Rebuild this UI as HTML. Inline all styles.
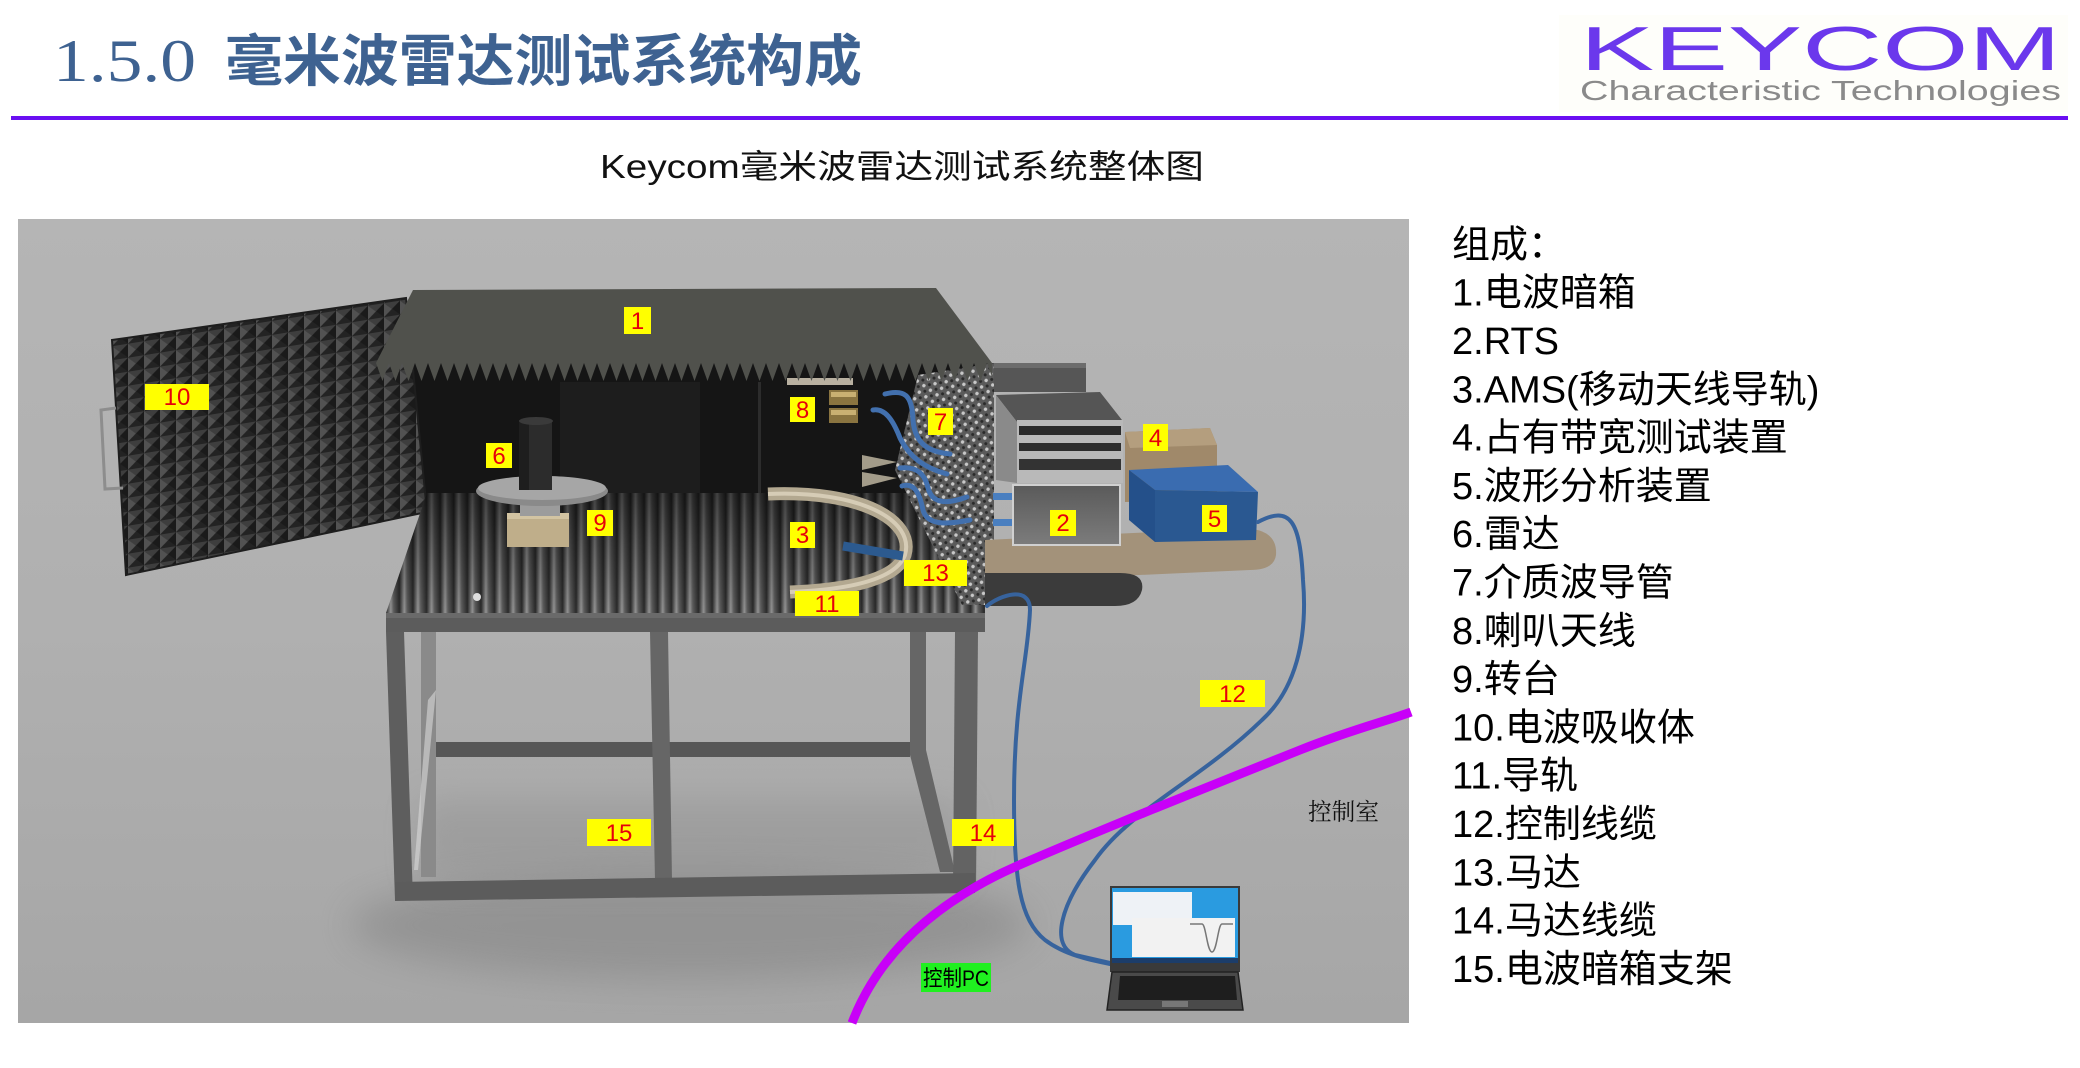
<!DOCTYPE html>
<html><head><meta charset="utf-8">
<style>
html,body{margin:0;padding:0;background:#fff;}
body{width:2080px;height:1068px;overflow:hidden;position:relative;}
svg{position:absolute;left:0;top:0;}
</style></head><body>
<svg width="2080" height="1068" viewBox="0 0 2080 1068" xmlns="http://www.w3.org/2000/svg">
<defs>
 <linearGradient id="bg" x1="0" y1="0" x2="0" y2="1">
  <stop offset="0" stop-color="#b5b5b5"/>
  <stop offset="0.5" stop-color="#b0b0b0"/>
  <stop offset="1" stop-color="#a6a6a6"/>
 </linearGradient>
 <filter id="blur18" x="-50%" y="-50%" width="200%" height="200%"><feGaussianBlur stdDeviation="18"/></filter>
 <pattern id="pyr" width="16" height="14" patternUnits="userSpaceOnUse" patternTransform="skewY(-9)">
  <rect width="16" height="14" fill="#2a2a2a"/>
  <polygon points="0,0 8,7 0,14" fill="#525252"/>
  <polygon points="0,0 16,0 8,7" fill="#3e3e3e"/>
  <polygon points="16,0 16,14 8,7" fill="#1a1a1a"/>
  <polygon points="0,14 16,14 8,7" fill="#232323"/>
 </pattern>
 <linearGradient id="ribg" x1="0" x2="1" y1="0" y2="0">
  <stop offset="0" stop-color="#2e2e2e"/>
  <stop offset="0.35" stop-color="#949494"/>
  <stop offset="0.55" stop-color="#5e5e5e"/>
  <stop offset="1" stop-color="#282828"/>
 </linearGradient>
 <pattern id="rib" width="13.6" height="20" patternUnits="userSpaceOnUse" x="386">
  <rect width="13.6" height="20" fill="url(#ribg)"/>
 </pattern>
 <linearGradient id="floorshade" x1="0" y1="0" x2="0" y2="1">
  <stop offset="0" stop-color="#000" stop-opacity="0.55"/>
  <stop offset="1" stop-color="#000" stop-opacity="0"/>
 </linearGradient>
 <pattern id="teeth" width="13" height="19" patternUnits="userSpaceOnUse" x="376" y="363">
  <polygon points="0,0 13,0 6.5,18" fill="#50514c"/>
 </pattern>
 <pattern id="speck" width="8" height="8" patternUnits="userSpaceOnUse" patternTransform="rotate(35)">
  <rect width="8" height="8" fill="#5a5a5a"/>
  <circle cx="2" cy="2" r="1.7" fill="#c8c8c8"/>
  <circle cx="6" cy="6" r="1.5" fill="#2a2a2a"/>
 </pattern>
 <linearGradient id="boxg" x1="0" y1="0" x2="0" y2="1">
  <stop offset="0" stop-color="#5a5a5a"/>
  <stop offset="1" stop-color="#7c7c7c"/>
 </linearGradient>
</defs>

<!-- HEADER -->
<text x="53" y="81" font-family="'Liberation Serif',serif" font-size="60" fill="#3e6291" textLength="143" lengthAdjust="spacingAndGlyphs">1.5.0</text>
<text x="225" y="81" font-family="'Noto Sans CJK SC','WenQuanYi Zen Hei',sans-serif" font-weight="bold" font-size="56" fill="#3e6291" textLength="637" lengthAdjust="spacingAndGlyphs">毫米波雷达测试系统构成</text>

<rect x="1559" y="15" width="509" height="97" fill="#fefefa"/>
<text x="1580" y="70" font-family="'Liberation Sans',sans-serif" font-size="62" fill="#6b38ec" textLength="481" lengthAdjust="spacingAndGlyphs">KEYCOM</text>
<text x="1580" y="100" font-family="'Liberation Sans',sans-serif" font-size="28" fill="#8a8a8a" textLength="481" lengthAdjust="spacingAndGlyphs">Characteristic Technologies</text>

<rect x="11" y="116" width="2057" height="4" fill="#6a0ff2"/>

<text x="600" y="178" font-family="'Liberation Sans','Noto Sans CJK SC',sans-serif" font-size="33" fill="#111" textLength="604" lengthAdjust="spacingAndGlyphs">Keycom毫米波雷达测试系统整体图</text>

<!-- PHOTO -->
<rect x="18" y="219" width="1391" height="804" fill="url(#bg)"/>
<ellipse cx="690" cy="925" rx="340" ry="55" fill="#7a7a7a" opacity="0.45" filter="url(#blur18)"/>
<rect x="420" y="800" width="540" height="80" fill="#777" opacity="0.25" filter="url(#blur18)"/>

<!-- table frame -->
<rect x="436" y="742" width="474" height="15" fill="#575757"/>
<polygon points="421,632 436,632 436,877 421,877" fill="#8a8a8a"/>
<polygon points="428,700 436,690 418,870 414,870" fill="#d8d8d8" opacity="0.6"/>
<polygon points="910,632 926,632 926,750 955,872 940,872 910,755" fill="#666"/>
<polygon points="386,632 404,632 413,900 395,900" fill="#5e5e5e"/>
<polygon points="650,632 668,632 672,880 655,880" fill="#666"/>
<polygon points="955,632 978,632 976,890 953,890" fill="#636363"/>
<polygon points="395,882 975,873 975,893 395,901" fill="#5c5c5c"/>

<!-- interior -->
<polygon points="412,363 994,363 994,505 427,505" fill="#151515"/>
<rect x="560" y="382" width="140" height="115" fill="#1d1d1d"/>
<rect x="758" y="382" width="3" height="115" fill="#2c2c2c"/>
<rect x="787" y="378" width="66" height="7" fill="#b8b0a0"/>
<rect x="829" y="390" width="29" height="15" fill="#8a7440"/>
<rect x="831" y="392" width="25" height="5" fill="#c9b072"/>
<rect x="829" y="408" width="29" height="15" fill="#8a7440"/>
<rect x="831" y="410" width="25" height="5" fill="#c9b072"/>
<polygon points="862,455 897,462 862,470" fill="#a39c8a"/>
<polygon points="862,472 897,478 862,487" fill="#a39c8a"/>

<!-- door -->
<polygon points="112,340 406,298 427,512 126,575" fill="url(#pyr)" stroke="#1e1e1e" stroke-width="2"/>
<path d="M116,408 L101,410 L105,489 L123,488" fill="none" stroke="#8d8d8d" stroke-width="3"/>

<!-- floor -->
<polygon points="427,493 985,493 985,613 386,613" fill="url(#rib)"/>
<polygon points="427,493 985,493 985,613 386,613" fill="url(#floorshade)"/>
<circle cx="477" cy="597" r="4" fill="#ddd"/>
<polygon points="386,613 985,613 985,632 386,632" fill="#5c5c5c"/>
<rect x="386" y="613" width="599" height="5" fill="#6a6a6a"/>

<!-- right inner wall -->
<polygon points="918,375 994,363 994,605 962,605 895,470" fill="url(#speck)"/>

<!-- lid -->
<polygon points="413,290 936,288 992,363 376,363" fill="#50514c"/>
<rect x="376" y="363" width="616" height="19" fill="url(#teeth)"/>

<!-- turntable -->
<rect x="507" y="513" width="62" height="34" fill="#bfae8a"/>
<rect x="507" y="513" width="62" height="6" fill="#d3c4a2"/>
<rect x="520" y="492" width="40" height="24" fill="#9c9c9c"/>
<ellipse cx="542" cy="491" rx="66" ry="15" fill="#8a8a8a"/>
<ellipse cx="542" cy="488" rx="64" ry="12" fill="#a6a6a6"/>
<rect x="519" y="420" width="33" height="70" fill="#2c2c2c"/>
<rect x="519" y="420" width="10" height="70" fill="#1e1e1e"/>
<ellipse cx="536" cy="421" rx="17" ry="4" fill="#3a3a3a"/>

<!-- AMS rail -->
<path d="M768,494 C860,490 915,520 905,555 C895,582 840,590 790,592" fill="none" stroke="#b3a890" stroke-width="13"/>
<path d="M768,494 C860,490 915,520 905,555 C895,582 840,590 790,592" fill="none" stroke="#d6ccb6" stroke-width="4"/>
<line x1="843" y1="546" x2="903" y2="556" stroke="#2c5a8f" stroke-width="9"/>

<!-- waveguides -->
<g fill="none" stroke="#4270ae" stroke-width="5" stroke-linecap="round">
 <path d="M885,394 C905,389 912,395 913,420 C915,445 930,452 950,454"/>
 <path d="M873,410 C885,408 893,420 900,438 C910,458 925,468 947,474"/>
 <path d="M900,468 C918,466 925,475 928,488 C932,503 945,505 967,497"/>
 <path d="M902,486 C915,482 920,495 923,510 C927,525 945,525 970,520"/>
</g>
<rect x="993" y="493" width="24" height="7" fill="#4a7fc0"/>
<rect x="993" y="519" width="24" height="7" fill="#4a7fc0"/>

<!-- shelf -->
<path d="M985,540 L1240,528 Q1278,528 1276,555 Q1274,570 1250,570 L985,582 Z" fill="#a3927a"/>
<path d="M985,573 L1120,573 Q1145,573 1142,590 Q1138,606 1115,606 L985,606 Z" fill="#3b3b3b"/>
<polygon points="1125,432 1210,428 1217,445 1217,500 1125,502" fill="#a0896a"/>
<polygon points="1125,432 1210,428 1217,445 1130,448" fill="#b49e7e"/>

<!-- RTS -->
<rect x="994" y="363" width="92" height="29" fill="#565656"/>
<rect x="994" y="363" width="92" height="5" fill="#6c6c6c"/>
<polygon points="996,395 1100,392 1122,420 1017,422" fill="#555"/>
<polygon points="996,395 1017,422 1017,483 996,480" fill="#8a8a8a"/>
<rect x="1017" y="420" width="106" height="63" fill="#b9b9b9"/>
<rect x="1019" y="426" width="102" height="9" fill="#2a2a2a"/>
<rect x="1019" y="443" width="102" height="8" fill="#2d2d2d"/>
<rect x="1019" y="459" width="102" height="11" fill="#333"/>
<rect x="1013" y="485" width="107" height="60" fill="url(#boxg)" stroke="#d0d0d0" stroke-width="2"/>

<!-- blue box 5 -->
<polygon points="1129,470 1228,465 1258,492 1155,490" fill="#3a6cb0"/>
<polygon points="1155,490 1258,492 1256,540 1155,542" fill="#2a5891"/>
<polygon points="1129,470 1155,490 1155,542 1129,520" fill="#24508a"/>

<!-- cables -->
<g fill="none" stroke="#37639d" stroke-width="4" stroke-linecap="round">
 <path d="M1258,522 C1290,505 1300,520 1303,580 C1308,640 1295,690 1262,720 C1200,780 1130,810 1095,860 C1060,905 1050,945 1075,955 L1110,963"/>
 <path d="M987,606 C1000,595 1030,585 1030,610 C1028,660 1014,700 1014,800 C1014,880 1020,920 1045,940 C1065,955 1090,960 1110,964"/>
</g>

<!-- magenta line -->
<path d="M852,1023 C880,950 940,900 1017,866 C1100,830 1200,790 1300,750 C1350,730 1390,720 1411,712" fill="none" stroke="#c800f8" stroke-width="9"/>

<!-- laptop -->
<rect x="1110" y="886" width="130" height="86" fill="#3a3a3a"/>
<rect x="1112" y="888" width="126" height="70" fill="#2a9be0"/>
<rect x="1113" y="892" width="79" height="33" fill="#eef2f6"/>
<rect x="1132" y="918" width="103" height="39" fill="#f2f2f2"/>
<path d="M1190,924 L1202,924 C1206,924 1207,952 1212,952 C1217,952 1218,924 1222,924 L1233,924" fill="none" stroke="#777" stroke-width="1.5"/>
<rect x="1112" y="958" width="126" height="5" fill="#1c3d6a"/>
<polygon points="1112,972 1238,972 1243,1010 1107,1010" fill="#4a4a4a" stroke="#222" stroke-width="1.5"/>
<polygon points="1120,976 1235,976 1237,1000 1118,1000" fill="#1e1e1e"/>
<rect x="1162" y="1001" width="26" height="6" fill="#777"/>

<!-- text in photo -->
<text x="1308" y="820" font-family="'Noto Serif CJK SC','Noto Sans CJK SC',serif" font-size="24" fill="#111" textLength="71" lengthAdjust="spacingAndGlyphs">控制室</text>
<rect x="921" y="963" width="70" height="29" fill="#20f020"/>
<text x="923" y="986" font-family="'Liberation Sans','Noto Sans CJK SC',sans-serif" font-size="22" fill="#000" textLength="66" lengthAdjust="spacingAndGlyphs">控制PC</text>

<!-- yellow labels -->
<g font-family="'Liberation Sans Narrow','Liberation Sans',sans-serif" font-size="24" fill="#e6000b" text-anchor="middle">
 <rect x="624" y="307" width="27" height="27" fill="#ffff00"/><text x="637.5" y="329">1</text>
 <rect x="145" y="384" width="64" height="26" fill="#ffff00"/><text x="177" y="405">10</text>
 <rect x="486" y="443" width="26" height="25" fill="#ffff00"/><text x="499" y="464">6</text>
 <rect x="587" y="510" width="26" height="26" fill="#ffff00"/><text x="600" y="531">9</text>
 <rect x="790" y="397" width="25" height="25" fill="#ffff00"/><text x="802.5" y="418">8</text>
 <rect x="928" y="408" width="25" height="27" fill="#ffff00"/><text x="940.5" y="430">7</text>
 <rect x="1143" y="424" width="25" height="27" fill="#ffff00"/><text x="1155.5" y="446">4</text>
 <rect x="1050" y="510" width="26" height="26" fill="#ffff00"/><text x="1063" y="531">2</text>
 <rect x="1202" y="505" width="25" height="27" fill="#ffff00"/><text x="1214.5" y="527">5</text>
 <rect x="790" y="522" width="25" height="26" fill="#ffff00"/><text x="802.5" y="543">3</text>
 <rect x="904" y="560" width="63" height="26" fill="#ffff00"/><text x="935.5" y="581">13</text>
 <rect x="795" y="591" width="64" height="25" fill="#ffff00"/><text x="827" y="612">11</text>
 <rect x="1200" y="680" width="65" height="27" fill="#ffff00"/><text x="1232.5" y="702">12</text>
 <rect x="587" y="819" width="64" height="27" fill="#ffff00"/><text x="619" y="841">15</text>
 <rect x="952" y="819" width="62" height="27" fill="#ffff00"/><text x="983" y="841">14</text>
</g>

<!-- RIGHT LIST -->
<g font-family="'Liberation Sans','Noto Sans CJK SC',sans-serif" font-size="38" fill="#000">
 <text x="1452" y="257.4">组成：</text>
 <text x="1452" y="305.7">1.电波暗箱</text>
 <text x="1452" y="354">2.RTS</text>
 <text x="1452" y="402.3">3.AMS(移动天线导轨)</text>
 <text x="1452" y="450.6">4.占有带宽测试装置</text>
 <text x="1452" y="498.9">5.波形分析装置</text>
 <text x="1452" y="547.2">6.雷达</text>
 <text x="1452" y="595.5">7.介质波导管</text>
 <text x="1452" y="643.8">8.喇叭天线</text>
 <text x="1452" y="692.1">9.转台</text>
 <text x="1452" y="740.4">10.电波吸收体</text>
 <text x="1452" y="788.7">11.导轨</text>
 <text x="1452" y="837">12.控制线缆</text>
 <text x="1452" y="885.3">13.马达</text>
 <text x="1452" y="933.6">14.马达线缆</text>
 <text x="1452" y="981.9">15.电波暗箱支架</text>
</g>
</svg>
</body></html>
